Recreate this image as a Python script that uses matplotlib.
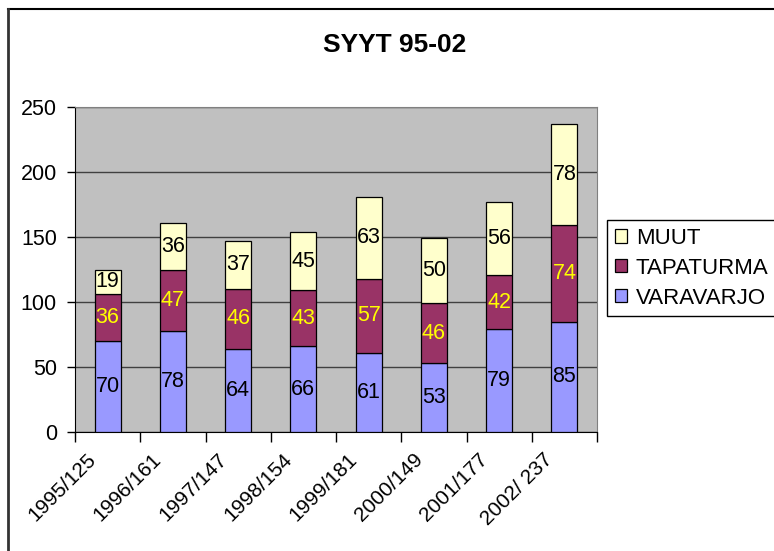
import numpy as np
import matplotlib
matplotlib.use('Agg')
import matplotlib.pyplot as plt
import matplotlib.transforms as mtransforms
from matplotlib.lines import Line2D

plt.rcParams['font.family'] = ['Liberation Sans', 'DejaVu Sans']

# data
categories = ['1995/125', '1996/161', '1997/147', '1998/154',
              '1999/181', '2000/149', '2001/177', '2002/ 237']
varavarjo = [70, 78, 64, 66, 61, 53, 79, 85]
tapaturma = [36, 47, 46, 43, 57, 46, 42, 74]
muut = [19, 36, 37, 45, 63, 50, 56, 78]

series = [('VARAVARJO', varavarjo, '#9999FF', 'black'),
          ('TAPATURMA', tapaturma, '#993366', '#FFFF00'),
          ('MUUT', muut, '#FFFFCC', 'black')]

W, H = 774, 551
fig = plt.figure(figsize=(W / 100, H / 100), dpi=100)
ax = fig.add_axes([75 / W, (H - 432) / H, 522 / W, 325 / H])
ax.set_facecolor('#C0C0C0')

x = np.arange(len(categories))
bottom = np.zeros(len(categories))
handles = []
for name, vals, col, tcol in series:
    vals = np.array(vals)
    b = ax.bar(x, vals, 0.4, bottom=bottom, color=col, edgecolor='black',
               linewidth=0.9, label=name, zorder=3)
    handles.append(b)
    for xi, bi, v in zip(x, bottom, vals):
        ax.text(xi, bi + v / 2, str(v), ha='center', va='center',
                fontsize=15.5, color=tcol, zorder=4)
    bottom = bottom + vals

ax.set_xlim(-0.5, len(categories) - 0.5)
ax.set_ylim(0, 250)
ax.set_yticks(np.arange(0, 251, 50))
ax.yaxis.grid(True, color='#404040', linewidth=1, zorder=1)
ax.set_axisbelow(True)
ax.tick_params(axis='y', labelsize=15.5, length=6, width=1, pad=7)

# category boundary ticks, labels between
ax.set_xticks(np.arange(-0.5, len(categories)), minor=True)
ax.set_xticks(x)
ax.tick_params(axis='x', which='minor', length=7, width=1)
ax.tick_params(axis='x', which='major', length=0, labelsize=15, pad=14)
ax.set_xticklabels(categories, rotation=45, ha='right', rotation_mode='anchor')
offset = mtransforms.ScaledTranslation(-0.21, 0.02, fig.dpi_scale_trans)
for lab in ax.get_xticklabels():
    lab.set_transform(lab.get_transform() + offset)

for s in ['left', 'bottom']:
    ax.spines[s].set_color('black')
for s in ['top', 'right']:
    ax.spines[s].set_color('#808080')

fig.text(395 / W, 1 - 45 / H, 'SYYT 95-02', ha='center', va='center',
         fontsize=19, fontweight='bold')

leg = fig.legend(handles[::-1], [h.get_label() for h in handles[::-1]],
                 loc='upper left', bbox_to_anchor=(607 / W, 1 - 220 / H),
                 fontsize=16, frameon=True, fancybox=False,
                 edgecolor='black', framealpha=1, handlelength=0.55,
                 handleheight=0.55, handletextpad=0.4, borderpad=0.35,
                 labelspacing=0.4, borderaxespad=0)
leg.get_frame().set_linewidth(1)

# outer chart border
fig.add_artist(Line2D([8 / W, 1], [1 - 9 / H, 1 - 9 / H], color='black', lw=1.5))
fig.add_artist(Line2D([8 / W, 8 / W], [0, 1 - 9 / H], color='#333333', lw=2))

fig.savefig('out.png', dpi=100)
